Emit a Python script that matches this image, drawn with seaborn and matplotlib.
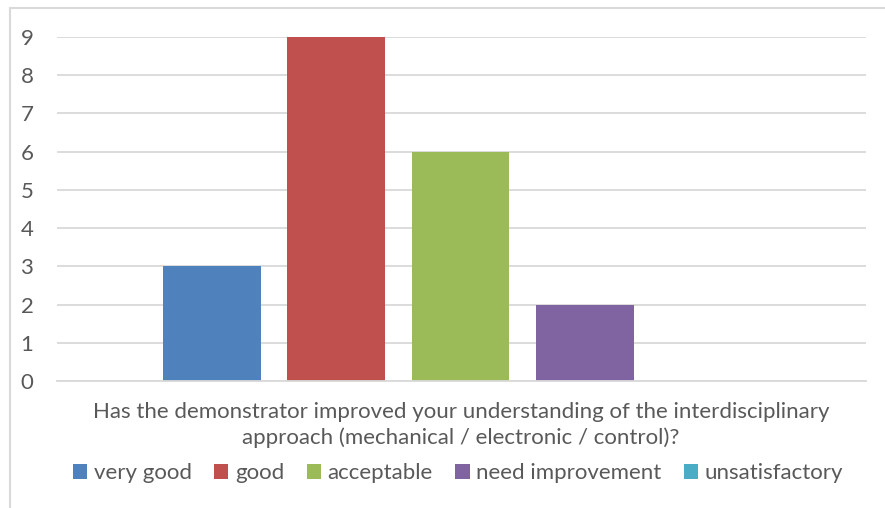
import matplotlib
matplotlib.use("Agg")
import matplotlib.pyplot as plt
import seaborn as sns
from matplotlib.patches import Rectangle, Patch

categories = ["very good", "good", "acceptable", "need improvement", "unsatisfactory"]
counts = [3, 9, 6, 2, 0]
colors = ["#4F81BD", "#C0504D", "#9BBB59", "#8064A2", "#4BACC6"]
question = ("Has the demonstrator improved your understanding of the interdisciplinary\n"
            "approach (mechanical / electronic / control)?")

sns.set_style("white")
plt.rcParams["font.family"] = ["Lato", "DejaVu Sans"]
text_color = "#595959"
grid_color = "#d9d9d9"

fig = plt.figure(figsize=(8.85, 5.08), dpi=100)
ax = fig.add_axes([57 / 885, 127 / 508, (866 - 57) / 885, (381 - 37) / 508])

sns.barplot(x=categories, y=counts, hue=categories, palette=colors,
            width=0.787, dodge=False, legend=False, ax=ax, saturation=1,
            edgecolor="none")

ax.set_xlim(-1.245, 5.261)
ax.set_ylim(0, 9)
ax.set_yticks(range(10))
ax.yaxis.grid(True, color=grid_color, linewidth=1.3)
ax.set_axisbelow(True)
ax.set_xticks([])
ax.set_xlabel("")
ax.set_ylabel("")
for side in ["top", "right", "left"]:
    ax.spines[side].set_visible(False)
ax.spines["bottom"].set_color(grid_color)
ax.spines["bottom"].set_linewidth(1.3)
ax.tick_params(axis="y", length=0, labelsize=16, labelcolor=text_color, pad=17)

fig.text(461 / 885, 1 - 425 / 508, question, ha="center", va="center",
         fontsize=16, color=text_color, linespacing=1.35)

handles = [Patch(facecolor=c, edgecolor="none") for c in colors]
fig.legend(handles, categories, loc="center", bbox_to_anchor=(458 / 885, 1 - 473 / 508),
           ncol=5, frameon=False, fontsize=16, labelcolor=text_color,
           handlelength=0.65, handleheight=0.65, handletextpad=0.3, columnspacing=1.0)

fig.patches.append(Rectangle((10 / 885, -0.1), 1.2, (508 - 8) / 508 + 0.1,
                             transform=fig.transFigure, fill=False,
                             edgecolor=grid_color, linewidth=1.5))

fig.savefig("out.png", dpi=100)
